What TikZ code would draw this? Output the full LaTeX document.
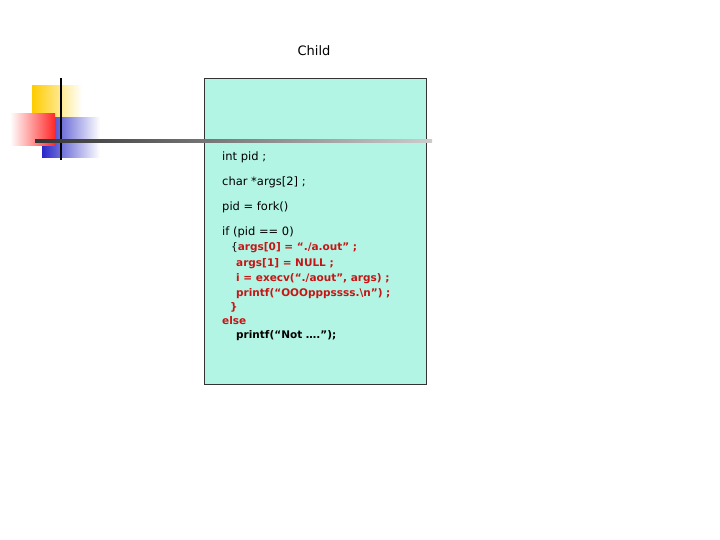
\documentclass[tikz,border=0pt]{standalone}
\usepackage{fontspec}
\setmainfont{DejaVu Sans}
\usetikzlibrary{positioning}
\definecolor{boxfill}{RGB}{178,245,228}
\definecolor{codered}{RGB}{200,20,20}
\definecolor{sqyellow}{RGB}{255,204,0}
\definecolor{sqblue}{RGB}{40,40,200}
\definecolor{sqred}{RGB}{255,40,40}
\tikzset{
  codeline/.style={anchor=west, inner sep=0pt, font=\fontsize{11.5}{13}\selectfont},
  redline/.style={anchor=west, inner sep=0pt, text=codered, font=\fontsize{10.5}{12}\selectfont\bfseries},
}
\begin{document}
\begin{tikzpicture}[x=1pt,y=-1pt]
  \useasboundingbox (0,0) rectangle (720,540);
  %Logo
  \shade[left color=sqyellow, right color=white] (32,86) rectangle (82,118);
  \shade[left color=sqblue, right color=white] (42,118) rectangle (100,158);
  \shade[left color=white, right color=sqred] (10,114) rectangle (55,146);
  \draw[line width=1.5pt] (61,78) -- (61,160);
  %Box
  \node[draw=black!80, fill=boxfill, minimum width=222, minimum height=306, anchor=north west, inner sep=0pt] (childbox) at (204,78) {};
  \shade[left color=black!80, right color=black!20] (35,140) rectangle (432,142.5);
  \node[font=\fontsize{13}{15}\selectfont] (title) at (314,51) {Child};
  %Code
  \node[codeline] (l1) at (222,157) {int pid ;};
  \node[codeline] (l2) at (222,182) {char *args[2] ;};
  \node[codeline] (l3) at (222,207) {pid = fork()};
  \node[codeline] (l4) at (222,232) {if (pid == 0)};
  \node[redline] (r1) at (231,248) {{\color{black}\mdseries\{}args[0] = “./a.out” ;};
  \node[redline] (r2) at (236,264) {args[1] = NULL ;};
  \node[redline] (r3) at (236,279) {i = execv(“./aout”, args) ;};
  \node[redline] (r4) at (236,294) {printf(“OOOpppssss.\textbackslash n”) ;};
  \node[redline] (r5) at (230,307) {\}};
  \node[redline] (r6) at (222,321) {else};
  \node[redline, text=black] (r7) at (236,336) {printf(“Not ….”);};
\end{tikzpicture}
\end{document}
